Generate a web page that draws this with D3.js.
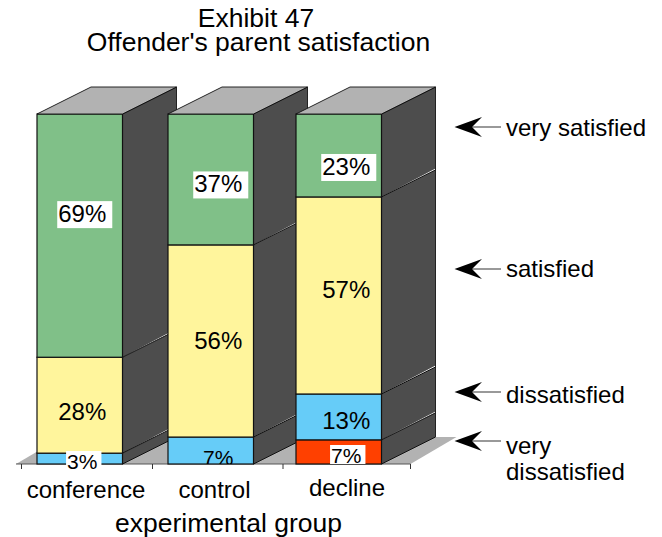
<!DOCTYPE html>
<html>
<head>
<meta charset="utf-8">
<script src="https://cdn.jsdelivr.net/npm/d3@7"></script>
<style>html,body{margin:0;padding:0;background:#fff}svg{display:block}text{font-family:"Liberation Sans",Arial,sans-serif;fill:#000}</style>
</head>
<body>
<div id="chart"></div>
<script>
const categories = ["conference", "control", "decline"];
const levels = ["very dissatisfied", "dissatisfied", "satisfied", "very satisfied"];
const veryDissatisfied = [0, 0, 6.9];
const dissatisfied = [3.1, 7.7, 13.1];
const satisfied = [27.4, 54.9, 56.3];
const verySatisfied = [69.5, 37.4, 23.7];
const veryDissatisfiedLabels = ["", "", "7%"];
const dissatisfiedLabels = ["3%", "7%", "13%"];
const satisfiedLabels = ["28%", "56%", "57%"];
const verySatisfiedLabels = ["69%", "37%", "23%"];
const seriesColors = ["#ff4000", "#66ccf8", "#fff59c", "#80c088"];
const legendY = [441, 392, 269, 127];

const W = 662, H = 537;
const svg = d3.select("#chart").append("svg").attr("width", W).attr("height", H);

const y = d3.scaleLinear().domain([0, 100]).range([464, 114]);
const x = d3.scaleOrdinal().domain(categories).range([37, 168, 296]);
const tickX = d3.scaleOrdinal().domain(categories).range([21.5, 152.5, 283]);
const barW = 85.5, dx = 54, dy = -27;

const seriesValues = [veryDissatisfied, dissatisfied, satisfied, verySatisfied];
const seriesLabels = [veryDissatisfiedLabels, dissatisfiedLabels, satisfiedLabels, verySatisfiedLabels];
// vertical nudge of each label from its segment's centre, per series then category
const labelNudge = [[0, 0, 0], [0, 0, 4], [6, 0, -6], [-22, 4.5, 11]];
const labelShiftX = [2.5, 7.5, 7.5];
const boxed = [[0, 0, 1], [1, 0, 0], [0, 0, 0], [1, 1, 1]];
const clippedAtFloor = [[0, 0, 1], [0, 1, 0], [0, 0, 0], [0, 0, 0]];
const smallBaselineOffset = [5, 1, -1];

// Title
svg.append("text").attr("x", 256).attr("y", 27).attr("text-anchor", "middle").style("font-size", "26.5px").text("Exhibit 47");
svg.append("text").attr("x", 258.5).attr("y", 51).attr("text-anchor", "middle").style("font-size", "26.5px").text("Offender's parent satisfaction");

// Floor
const floorL = 16, floorR = 410.5;
svg.append("path")
  .attr("d", `M${floorL},${y(0)}L${floorL + dx - 8},${y(0) + dy}H${floorR + 46}L${floorR},${y(0)}Z`)
  .attr("fill", "#b2b2b2");
svg.append("line").attr("x1", floorL).attr("x2", floorR).attr("y1", y(0)).attr("y2", y(0))
  .attr("stroke", "#555").attr("stroke-width", 1);
[...categories, "end"].forEach((c, i) => {
  const tx = i < 3 ? tickX(c) : floorR;
  svg.append("line").attr("x1", tx).attr("x2", tx).attr("y1", y(0)).attr("y2", y(0) + 5)
    .attr("stroke", "#333").attr("stroke-width", 1);
});

// Bars
const stroke = "#111";
categories.forEach((c, i) => {
  const x0 = x(c), x1 = x0 + barW;
  let acc = 0;
  seriesValues.forEach((vals, s) => {
    const v = vals[i];
    if (v <= 0) return;
    const yb = y(acc), yt = y(acc + v);
    const backLift = acc > 0 ? 1.4 : 0;
    acc += v;
    svg.append("path")
      .attr("d", `M${x1},${yb}L${x1 + dx},${yb + dy - backLift}V${yt + dy}L${x1},${yt}Z`)
      .attr("fill", "#4d4d4d");
    svg.append("path")
      .attr("d", `M${x1},${yb}L${x1 + dx},${yb + dy}`)
      .attr("stroke", stroke).attr("stroke-width", 1).attr("fill", "none");
    svg.append("rect")
      .attr("x", x0).attr("y", yt).attr("width", barW).attr("height", yb - yt)
      .attr("fill", seriesColors[s]).attr("stroke", stroke).attr("stroke-width", 1.2);
  });
  svg.append("path")
    .attr("d", `M${x1 + dx},${y(0) + dy}V${y(100) + dy}`)
    .attr("stroke", "#222").attr("stroke-width", 1);
  svg.append("path")
    .attr("d", `M${x1},${y(100)}L${x1 + dx},${y(100) + dy}`)
    .attr("stroke", stroke).attr("stroke-width", 1.1);
  svg.append("path")
    .attr("d", `M${x0},${y(100)}L${x0 + dx},${y(100) + dy}H${x1 + dx}L${x1},${y(100)}Z`)
    .attr("fill", "#b2b2b2").attr("stroke", stroke).attr("stroke-width", 0.9);
});

// Value labels
const defs = svg.append("defs");
categories.forEach((c, i) => {
  let acc = 0;
  seriesValues.forEach((vals, s) => {
    const v = vals[i];
    if (v <= 0) return;
    const mid = acc + v / 2;
    acc += v;
    const label = seriesLabels[s][i];
    const cx = x(c) + barW / 2 + labelShiftX[i];
    const small = v < 10;
    const baseline = small
      ? y(0) + smallBaselineOffset[i]
      : y(mid) + labelNudge[s][i] + 8.5;
    const id = "clip" + i + s;
    defs.append("clipPath").attr("id", id).append("rect")
      .attr("x", 0).attr("y", 0).attr("width", W)
      .attr("height", clippedAtFloor[s][i] ? y(0) : H);
    const g = svg.append("g").attr("clip-path", `url(#${id})`);
    const t = g.append("text").attr("x", cx).attr("y", baseline).attr("text-anchor", "middle")
      .style("font-size", small ? "21px" : "24px").text(label);
    if (boxed[s][i]) {
      const b = t.node().getBBox();
      g.insert("rect", "text").attr("x", b.x - 1).attr("y", baseline - (small ? 18 : 21))
        .attr("width", b.width + (small ? 5 : 7)).attr("height", small ? 19 : 27).attr("fill", "#fff");
    }
  });
});

// Category labels
const catLabelY = [498, 498, 495.5];
const catLabelX = [86, 214.5, 347];
categories.forEach((c, i) => {
  svg.append("text").attr("x", catLabelX[i]).attr("y", catLabelY[i]).attr("text-anchor", "middle")
    .style("font-size", "24px").text(c);
});
svg.append("text").attr("x", 228.5).attr("y", 532).attr("text-anchor", "middle")
  .style("font-size", "26.5px").text("experimental group");

// Legend arrows and labels
const legendBaseline = [0, 11, 8, 9];
levels.forEach((l, i) => {
  const ay = legendY[i];
  svg.append("line").attr("x1", 472).attr("x2", 501).attr("y1", ay).attr("y2", ay)
    .attr("stroke", "#555").attr("stroke-width", 1.2);
  svg.append("path")
    .attr("d", `M454.5,${ay}L482,${ay - 10}L472,${ay}L482,${ay + 10}Z`)
    .attr("fill", "#000");
  if (l === "very dissatisfied") {
    svg.append("text").attr("x", 506).attr("y", ay + 13).style("font-size", "24px").text("very");
    svg.append("text").attr("x", 506).attr("y", ay + 39).style("font-size", "24px").text("dissatisfied");
  } else {
    svg.append("text").attr("x", 506).attr("y", ay + legendBaseline[i]).style("font-size", "24px").text(l);
  }
});
</script>
</body>
</html>
